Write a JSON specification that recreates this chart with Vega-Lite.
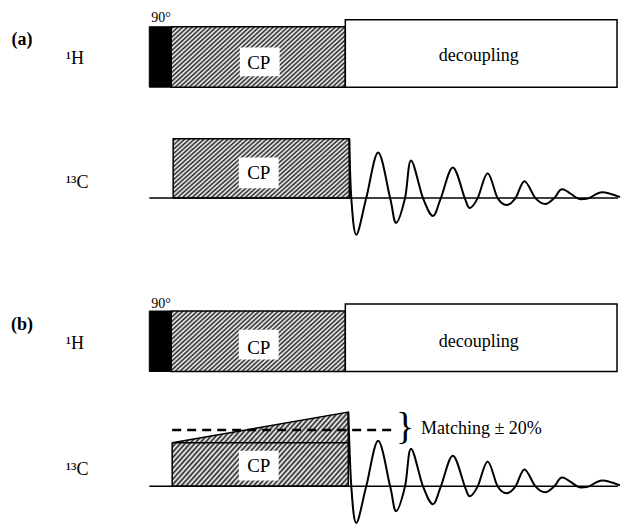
{
  "$schema": "https://vega.github.io/schema/vega-lite/v6.json",
  "width": 624,
  "height": 527,
  "autosize": {"type": "fit", "contains": "padding"},
  "padding": 0,
  "background": "white",
  "config": {"view": {"stroke": null}},
  "encoding": {
    "x": {"field": "x", "type": "quantitative", "scale": {"domain": [0, 624], "nice": false, "zero": false}, "axis": null},
    "y": {"field": "y", "type": "quantitative", "scale": {"domain": [0, 527], "nice": false, "zero": false, "reverse": true}, "axis": null, "stack": null}
  },
  "layer": [
    {
      "data": {"values": [
        {"s": "a1", "x": 172, "y": 27, "y2": 88},
        {"s": "a1", "x": 347, "y": 27, "y2": 88},
        {"s": "a2", "x": 174, "y": 140, "y2": 200},
        {"s": "a2", "x": 351, "y": 140, "y2": 200},
        {"s": "b1", "x": 172, "y": 314, "y2": 375},
        {"s": "b1", "x": 347, "y": 314, "y2": 375},
        {"s": "b2", "x": 173, "y": 447, "y2": 491},
        {"s": "b2", "x": 350, "y": 416, "y2": 491}
      ]},
      "mark": {
        "type": "area",
        "interpolate": "linear",
        "stroke": "black",
        "strokeWidth": 1.5,
        "fill": {
          "gradient": "linear", "x1": 0, "y1": 0, "x2": 1.2, "y2": 0.45,
          "stops": [
            {"offset": 0, "color": "#fff"}, {"offset": 0.01, "color": "#222"}, {"offset": 0.02, "color": "#fff"}, {"offset": 0.03, "color": "#222"}, {"offset": 0.04, "color": "#fff"},
            {"offset": 0.05, "color": "#222"}, {"offset": 0.06, "color": "#fff"}, {"offset": 0.07, "color": "#222"}, {"offset": 0.08, "color": "#fff"}, {"offset": 0.09, "color": "#222"},
            {"offset": 0.1, "color": "#fff"}, {"offset": 0.11, "color": "#222"}, {"offset": 0.12, "color": "#fff"}, {"offset": 0.13, "color": "#222"}, {"offset": 0.14, "color": "#fff"},
            {"offset": 0.15, "color": "#222"}, {"offset": 0.16, "color": "#fff"}, {"offset": 0.17, "color": "#222"}, {"offset": 0.18, "color": "#fff"}, {"offset": 0.19, "color": "#222"},
            {"offset": 0.2, "color": "#fff"}, {"offset": 0.21, "color": "#222"}, {"offset": 0.22, "color": "#fff"}, {"offset": 0.23, "color": "#222"}, {"offset": 0.24, "color": "#fff"},
            {"offset": 0.25, "color": "#222"}, {"offset": 0.26, "color": "#fff"}, {"offset": 0.27, "color": "#222"}, {"offset": 0.28, "color": "#fff"}, {"offset": 0.29, "color": "#222"},
            {"offset": 0.3, "color": "#fff"}, {"offset": 0.31, "color": "#222"}, {"offset": 0.32, "color": "#fff"}, {"offset": 0.33, "color": "#222"}, {"offset": 0.34, "color": "#fff"},
            {"offset": 0.35, "color": "#222"}, {"offset": 0.36, "color": "#fff"}, {"offset": 0.37, "color": "#222"}, {"offset": 0.38, "color": "#fff"}, {"offset": 0.39, "color": "#222"},
            {"offset": 0.4, "color": "#fff"}, {"offset": 0.41, "color": "#222"}, {"offset": 0.42, "color": "#fff"}, {"offset": 0.43, "color": "#222"}, {"offset": 0.44, "color": "#fff"},
            {"offset": 0.45, "color": "#222"}, {"offset": 0.46, "color": "#fff"}, {"offset": 0.47, "color": "#222"}, {"offset": 0.48, "color": "#fff"}, {"offset": 0.49, "color": "#222"},
            {"offset": 0.5, "color": "#fff"}, {"offset": 0.51, "color": "#222"}, {"offset": 0.52, "color": "#fff"}, {"offset": 0.53, "color": "#222"}, {"offset": 0.54, "color": "#fff"},
            {"offset": 0.55, "color": "#222"}, {"offset": 0.56, "color": "#fff"}, {"offset": 0.57, "color": "#222"}, {"offset": 0.58, "color": "#fff"}, {"offset": 0.59, "color": "#222"},
            {"offset": 0.6, "color": "#fff"}, {"offset": 0.61, "color": "#222"}, {"offset": 0.62, "color": "#fff"}, {"offset": 0.63, "color": "#222"}, {"offset": 0.64, "color": "#fff"},
            {"offset": 0.65, "color": "#222"}, {"offset": 0.66, "color": "#fff"}, {"offset": 0.67, "color": "#222"}, {"offset": 0.68, "color": "#fff"}, {"offset": 0.69, "color": "#222"},
            {"offset": 0.7, "color": "#fff"}, {"offset": 0.71, "color": "#222"}, {"offset": 0.72, "color": "#fff"}, {"offset": 0.73, "color": "#222"}, {"offset": 0.74, "color": "#fff"},
            {"offset": 0.75, "color": "#222"}, {"offset": 0.76, "color": "#fff"}, {"offset": 0.77, "color": "#222"}, {"offset": 0.78, "color": "#fff"}, {"offset": 0.79, "color": "#222"},
            {"offset": 0.8, "color": "#fff"}, {"offset": 0.81, "color": "#222"}, {"offset": 0.82, "color": "#fff"}, {"offset": 0.83, "color": "#222"}, {"offset": 0.84, "color": "#fff"},
            {"offset": 0.85, "color": "#222"}, {"offset": 0.86, "color": "#fff"}, {"offset": 0.87, "color": "#222"}, {"offset": 0.88, "color": "#fff"}, {"offset": 0.89, "color": "#222"},
            {"offset": 0.9, "color": "#fff"}, {"offset": 0.91, "color": "#222"}, {"offset": 0.92, "color": "#fff"}, {"offset": 0.93, "color": "#222"}, {"offset": 0.94, "color": "#fff"},
            {"offset": 0.95, "color": "#222"}, {"offset": 0.96, "color": "#fff"}, {"offset": 0.97, "color": "#222"}, {"offset": 0.98, "color": "#fff"}, {"offset": 0.99, "color": "#222"},
            {"offset": 1, "color": "#fff"}
          ]
        }
      },
      "encoding": {
        "y2": {"field": "y2"},
        "detail": {"field": "s", "type": "nominal"}
      }
    },
    {
      "data": {"values": [
        {"x": 150, "x2": 172, "y": 27, "y2": 88},
        {"x": 150, "x2": 172, "y": 314, "y2": 375}
      ]},
      "mark": {"type": "rect", "fill": "black", "stroke": "black", "strokeWidth": 1},
      "encoding": {"x2": {"field": "x2"}, "y2": {"field": "y2"}}
    },
    {
      "data": {"values": [
        {"x": 347, "x2": 620, "y": 20, "y2": 88},
        {"x": 347, "x2": 620, "y": 307, "y2": 375}
      ]},
      "mark": {"type": "rect", "fill": "white", "stroke": "black", "strokeWidth": 1.5},
      "encoding": {"x2": {"field": "x2"}, "y2": {"field": "y2"}}
    },
    {
      "data": {"values": [
        {"x": 241, "x2": 281, "y": 48, "y2": 77},
        {"x": 240, "x2": 280, "y": 159, "y2": 190},
        {"x": 240, "x2": 280, "y": 333, "y2": 363},
        {"x": 240, "x2": 280, "y": 455, "y2": 485}
      ]},
      "mark": {"type": "rect", "fill": "white", "stroke": null},
      "encoding": {"x2": {"field": "x2"}, "y2": {"field": "y2"}}
    },
    {
      "data": {"values": [
        {"x": 150, "x2": 621, "y": 200},
        {"x": 150, "x2": 621, "y": 491},
        {"x": 173, "x2": 350, "y": 447}
      ]},
      "mark": {"type": "rule", "color": "black", "strokeWidth": 1.5},
      "encoding": {"x2": {"field": "x2"}}
    },
    {
      "data": {"values": [{"x": 173, "x2": 396, "y": 434}]},
      "mark": {"type": "rule", "color": "black", "strokeWidth": 2.5, "strokeDash": [9, 6]},
      "encoding": {"x2": {"field": "x2"}}
    },
    {
      "data": {"values": [
        {"p": "a", "x": 351, "y": 140}, {"p": "a", "x": 353, "y": 200}, {"p": "a", "x": 358, "y": 237},
        {"p": "a", "x": 368, "y": 200}, {"p": "a", "x": 380, "y": 154}, {"p": "a", "x": 392, "y": 200},
        {"p": "a", "x": 398, "y": 225}, {"p": "a", "x": 407, "y": 200}, {"p": "a", "x": 413, "y": 162},
        {"p": "a", "x": 425, "y": 200}, {"p": "a", "x": 435, "y": 218}, {"p": "a", "x": 443, "y": 200},
        {"p": "a", "x": 455, "y": 169}, {"p": "a", "x": 467, "y": 200}, {"p": "a", "x": 472, "y": 210},
        {"p": "a", "x": 480, "y": 200}, {"p": "a", "x": 490, "y": 175}, {"p": "a", "x": 500, "y": 200},
        {"p": "a", "x": 509, "y": 207}, {"p": "a", "x": 518, "y": 200}, {"p": "a", "x": 527, "y": 183},
        {"p": "a", "x": 538, "y": 200}, {"p": "a", "x": 548, "y": 206}, {"p": "a", "x": 557, "y": 200},
        {"p": "a", "x": 565, "y": 191}, {"p": "a", "x": 580, "y": 200}, {"p": "a", "x": 586, "y": 201},
        {"p": "a", "x": 592, "y": 200}, {"p": "a", "x": 605, "y": 194}, {"p": "a", "x": 623, "y": 199},
        {"p": "b", "x": 350, "y": 416}, {"p": "b", "x": 353, "y": 491}, {"p": "b", "x": 358, "y": 528},
        {"p": "b", "x": 368, "y": 491}, {"p": "b", "x": 380, "y": 445}, {"p": "b", "x": 392, "y": 491},
        {"p": "b", "x": 398, "y": 516}, {"p": "b", "x": 407, "y": 491}, {"p": "b", "x": 413, "y": 453},
        {"p": "b", "x": 425, "y": 491}, {"p": "b", "x": 435, "y": 509}, {"p": "b", "x": 443, "y": 491},
        {"p": "b", "x": 455, "y": 460}, {"p": "b", "x": 467, "y": 491}, {"p": "b", "x": 472, "y": 501},
        {"p": "b", "x": 480, "y": 491}, {"p": "b", "x": 490, "y": 466}, {"p": "b", "x": 500, "y": 491},
        {"p": "b", "x": 509, "y": 498}, {"p": "b", "x": 518, "y": 491}, {"p": "b", "x": 527, "y": 474},
        {"p": "b", "x": 538, "y": 491}, {"p": "b", "x": 548, "y": 497}, {"p": "b", "x": 557, "y": 491},
        {"p": "b", "x": 565, "y": 482}, {"p": "b", "x": 580, "y": 491}, {"p": "b", "x": 586, "y": 492},
        {"p": "b", "x": 592, "y": 491}, {"p": "b", "x": 605, "y": 485}, {"p": "b", "x": 623, "y": 490}
      ]},
      "mark": {"type": "line", "interpolate": "cardinal", "tension": 0, "color": "black", "strokeWidth": 2},
      "encoding": {"detail": {"field": "p", "type": "nominal"}}
    },
    {
      "data": {"values": [
        {"x": 66, "y": 65, "t": "¹H"},
        {"x": 66, "y": 190, "t": "¹³C"},
        {"x": 66, "y": 352, "t": "¹H"},
        {"x": 66, "y": 480, "t": "¹³C"},
        {"x": 423, "y": 438, "t": "Matching ± 20%"}
      ]},
      "mark": {"type": "text", "font": "Liberation Serif", "fontSize": 18, "align": "left", "baseline": "alphabetic", "color": "black"},
      "encoding": {"text": {"field": "t"}}
    },
    {
      "data": {"values": [
        {"x": 481, "y": 62, "t": "decoupling"},
        {"x": 481, "y": 350, "t": "decoupling"}
      ]},
      "mark": {"type": "text", "font": "Liberation Serif", "fontSize": 18, "align": "center", "baseline": "alphabetic", "color": "black"},
      "encoding": {"text": {"field": "t"}}
    },
    {
      "data": {"values": [
        {"x": 260, "y": 70, "t": "CP"},
        {"x": 260, "y": 181, "t": "CP"},
        {"x": 260, "y": 357, "t": "CP"},
        {"x": 260, "y": 477, "t": "CP"}
      ]},
      "mark": {"type": "text", "font": "Liberation Serif", "fontSize": 19, "align": "center", "baseline": "alphabetic", "color": "black"},
      "encoding": {"text": {"field": "t"}}
    },
    {
      "data": {"values": [
        {"x": 152, "y": 22, "t": "90°"},
        {"x": 152, "y": 311, "t": "90°"}
      ]},
      "mark": {"type": "text", "font": "Liberation Serif", "fontSize": 14, "align": "left", "baseline": "alphabetic", "color": "black"},
      "encoding": {"text": {"field": "t"}}
    },
    {
      "data": {"values": [
        {"x": 22, "y": 45, "t": "(a)"},
        {"x": 22, "y": 333, "t": "(b)"}
      ]},
      "mark": {"type": "text", "font": "Liberation Serif", "fontSize": 18, "fontWeight": "bold", "align": "center", "baseline": "alphabetic", "color": "black"},
      "encoding": {"text": {"field": "t"}}
    },
    {
      "data": {"values": [{"x": 407, "y": 432, "t": "}"}]},
      "mark": {"type": "text", "font": "Liberation Serif", "fontSize": 38, "align": "center", "baseline": "middle", "color": "black"},
      "encoding": {"text": {"field": "t"}}
    }
  ]
}
